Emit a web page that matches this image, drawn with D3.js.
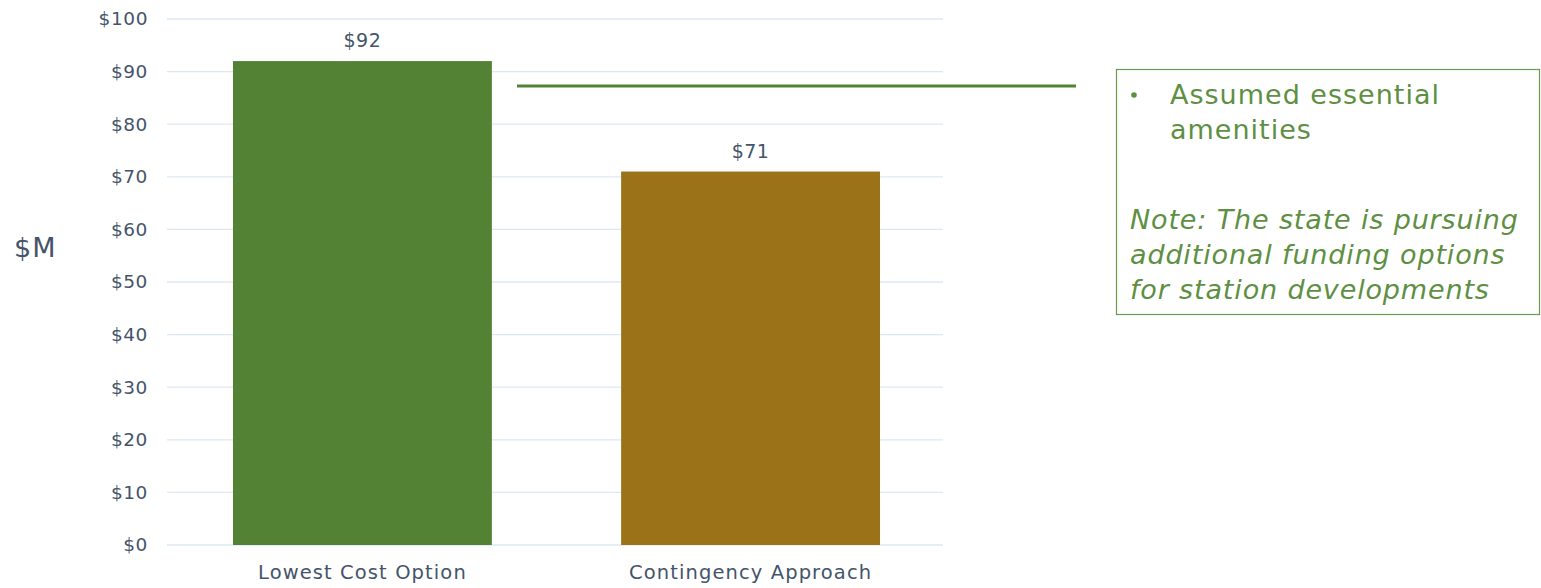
<!DOCTYPE html>
<html><head><meta charset="utf-8">
<script src="https://cdn.jsdelivr.net/npm/d3@7"></script>
<style>body{margin:0;background:#fff}svg{display:block}</style>
</head><body>
<svg id="chart" width="1541" height="588"></svg>
<script>
const categories = ["Lowest Cost Option", "Contingency Approach"];
const values = [92, 71];
const valueLabels = ["$92", "$71"];
const barColors = ["#548235", "#9C7219"];
const yTicks = [0, 10, 20, 30, 40, 50, 60, 70, 80, 90, 100];
const yAxisTitle = "$M";
const bulletLines = ["Assumed essential", "amenities"];
const noteLines = ["Note: The state is pursuing", "additional funding options", "for station developments"];

const svg = d3.select("#chart");
const font = "'DejaVu Sans', sans-serif";
const textColor = "#44546A";
const x = d3.scaleBand().domain(categories).range([167, 946]).paddingInner(0.333).paddingOuter(0.17);
const y = d3.scaleLinear().domain([0, 100]).range([545, 19]);

// gridlines
svg.append("g").selectAll("line").data(yTicks).join("line")
  .attr("x1", 167).attr("x2", 943)
  .attr("y1", d => y(d)).attr("y2", d => y(d))
  .attr("stroke", "#DCE8F4").attr("stroke-width", 1.3);

// y axis labels
const yAxis = d3.axisLeft(y).tickValues(yTicks).tickSize(0).tickPadding(0).tickFormat(d => "$" + d);
const gy = svg.append("g").attr("transform", "translate(148,0)").call(yAxis);
gy.select(".domain").remove();
gy.selectAll("text").attr("font-family", font).attr("font-size", 18.5).attr("letter-spacing", 0.6).attr("fill", textColor);

// bars
svg.append("g").selectAll("rect").data(values).join("rect")
  .attr("x", (d, i) => x(categories[i])).attr("width", x.bandwidth())
  .attr("y", d => y(d)).attr("height", d => y(0) - y(d))
  .attr("fill", (d, i) => barColors[i]);

// value labels
svg.append("g").selectAll("text").data(values).join("text")
  .attr("x", (d, i) => x(categories[i]) + x.bandwidth() / 2)
  .attr("y", d => y(d) - 14)
  .attr("text-anchor", "middle").attr("font-family", font).attr("font-size", 19).attr("letter-spacing", 0.5).attr("fill", textColor)
  .text((d, i) => valueLabels[i]);

// x axis labels
const xAxis = d3.axisBottom(x).tickSize(0).tickPadding(0);
const gx = svg.append("g").attr("transform", "translate(0,561)").call(xAxis);
gx.select(".domain").remove();
gx.selectAll("text").attr("font-family", font).attr("font-size", 19.5).attr("letter-spacing", 1.1).attr("fill", textColor).attr("dy", "0.9em");

// y title
svg.append("text").attr("x", 14).attr("y", 257).attr("font-family", font).attr("font-size", 27).attr("letter-spacing", 1)
  .attr("fill", textColor).text(yAxisTitle);

// connector line
svg.append("line").attr("x1", 517).attr("x2", 1076).attr("y1", 86).attr("y2", 86)
  .attr("stroke", "#548235").attr("stroke-width", 3);

// note box
svg.append("rect").attr("x", 1116.5).attr("y", 69.5).attr("width", 423).attr("height", 245)
  .attr("fill", "none").attr("stroke", "#6A9A4C").attr("stroke-width", 1.2);
const noteColor = "#5E8F43";
svg.append("circle").attr("cx", 1134).attr("cy", 95).attr("r", 2.8).attr("fill", noteColor);
svg.append("g").selectAll("text").data(bulletLines).join("text")
  .attr("x", 1170).attr("y", (d, i) => 104 + i * 35)
  .attr("font-family", font).attr("font-size", 27).attr("letter-spacing", 1).attr("fill", noteColor).text(d => d);
svg.append("g").selectAll("text").data(noteLines).join("text")
  .attr("x", 1130).attr("y", (d, i) => 229 + i * 35)
  .attr("font-family", font).attr("font-style", "italic").attr("font-size", 27).attr("letter-spacing", 0.85).attr("fill", noteColor).text(d => d);
</script>
</body></html>
